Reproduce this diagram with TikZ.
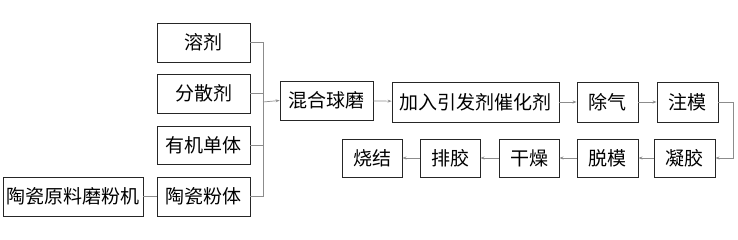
\documentclass[tikz,border=0pt]{standalone}
\usepackage{fontspec}
\setmainfont{Noto Sans CJK SC}
\usetikzlibrary{arrows.meta}
\begin{document}
\begin{tikzpicture}[x=1pt,y=-1pt,
  box/.style={draw=black!85,line width=0.9pt,inner sep=0pt,font=\fontsize{19}{19}\selectfont},
  conn/.style={draw=black!45,line width=0.7pt},
  arr/.style={conn,-{Stealth[length=4pt,width=3pt]}}]
\useasboundingbox (0,0) rectangle (738,240);
\newcommand\bx[6]{\node[box,minimum width=#4-#2,minimum height=#5-#3] (#1) at ({(#2+#4)/2},{(#3+#5)/2}) {#6};}
\bx{s1}{157}{23}{250}{62}{溶剂}
\bx{s2}{157}{74}{250}{113}{分散剂}
\bx{s3}{157}{126}{250}{164}{有机单体}
\bx{s4}{157}{177}{250}{216}{陶瓷粉体}
\bx{mill}{3}{177}{143}{216}{陶瓷原料磨粉机}
\bx{mix}{280}{81}{373}{120}{混合球磨}
\bx{add}{392}{82}{559}{122}{加入引发剂催化剂}
\bx{deg}{577}{82}{638}{122}{除气}
\bx{inj}{657}{82}{718}{122}{注模}
\bx{gel}{654}{139}{715}{177}{凝胶}
\bx{dem}{577}{139}{638}{177}{脱模}
\bx{dry}{499}{139}{559}{177}{干燥}
\bx{deb}{420}{139}{480}{177}{排胶}
\bx{sin}{342}{139}{402}{177}{烧结}
\coordinate (bus) at (263,102);
\coordinate (rt) at (733,102);
\draw[conn] (s1.east) -| (bus);
\draw[conn] (s4.east) -| (bus);
\draw[conn] (s2.east) -- (s2.east -| bus);
\draw[conn] (s3.east) -- (s3.east -| bus);
\draw[conn] (mill) -- (s4);
\draw[arr] (bus) -- (mix.west);
\draw[arr] (mix) -- (add);
\draw[arr] (add) -- (deg);
\draw[arr] (deg) -- (inj);
\draw[arr] (inj.east) -- (inj.east -| rt) |- (gel.east);
\draw[arr] (gel) -- (dem);
\draw[arr] (dem) -- (dry);
\draw[arr] (dry) -- (deb);
\draw[arr] (deb) -- (sin);
\end{tikzpicture}
\end{document}
